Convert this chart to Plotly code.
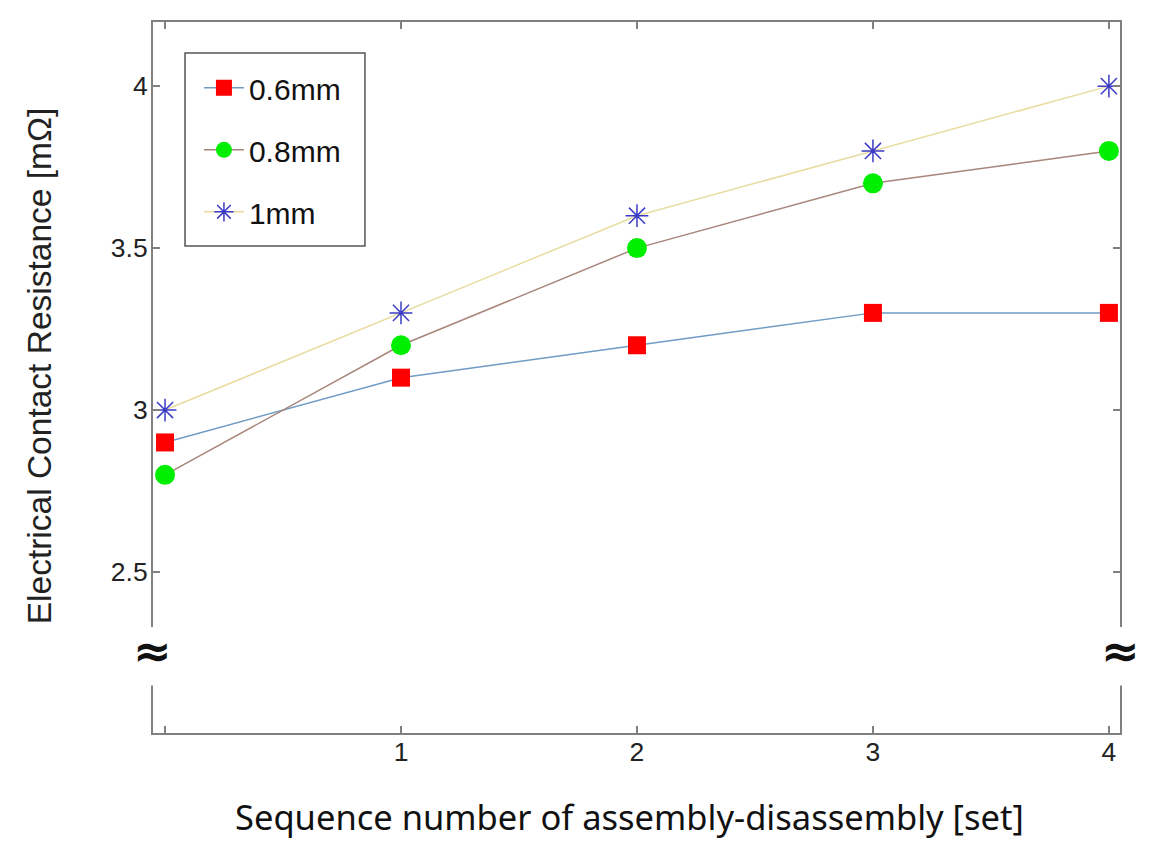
import plotly.graph_objects as go

sequence = [0, 1, 2, 3, 4]
tick_labels = ["", "1", "2", "3", "4"]
res_06 = [2.9, 3.1, 3.2, 3.3, 3.3]
res_08 = [2.8, 3.2, 3.5, 3.7, 3.8]
res_10 = [3.0, 3.3, 3.6, 3.8, 4.0]
y_ticks = [2.5, 3, 3.5, 4]
y_labels = ["2.5", "3", "3.5", "4"]

fig = go.Figure()
fig.add_trace(go.Scatter(
    x=sequence, y=res_06, name="0.6mm", mode="lines+markers", legendgroup="a",
    line=dict(color="#6f9cc4", width=1.5),
    marker=dict(symbol="square", size=18, color="#ff0000", line=dict(width=0))))
fig.add_trace(go.Scatter(
    x=sequence, y=res_08, name="0.8mm", mode="lines+markers", legendgroup="b",
    line=dict(color="#a8857a", width=1.5),
    marker=dict(symbol="circle", size=20, color="#00ee00", line=dict(width=0))))
fig.add_trace(go.Scatter(
    x=sequence, y=res_10, name="1mm", mode="lines+markers", legendgroup="c",
    line=dict(color="#e8dca0", width=1.5),
    marker=dict(symbol="asterisk-open", size=19, color="#3b3bc6", line=dict(width=1.5, color="#3b3bc6"))))

axis_common = dict(showline=True, linecolor="#808080", linewidth=2, mirror="ticks",
                   ticks="inside", ticklen=7, tickcolor="#808080", tickwidth=1.5,
                   showgrid=False, zeroline=False,
                   tickfont=dict(family="Liberation Sans, Arial", size=26.5, color="#222"))

fig.update_xaxes(range=[-0.051, 4.047], tickvals=sequence, ticktext=tick_labels,
                 ticklabelstandoff=-6, **axis_common)
fig.update_yaxes(range=[2.003, 4.198], tickvals=y_ticks, ticktext=y_labels,
                 ticklabelstandoff=-2, **axis_common)

# axis break gaps
for x0, x1 in [(-0.03, 0.03), (0.97, 1.03)]:
    fig.add_shape(type="rect", xref="paper", yref="y", x0=x0, x1=x1, y0=2.15, y1=2.33,
                  fillcolor="white", line=dict(width=0), layer="above")
for xp in [0, 1]:
    fig.add_annotation(x=xp, xref="paper", y=2.255, yref="y", text="<b>≈</b>", showarrow=False,
                       font=dict(family="DejaVu Sans", size=46, color="#111"),
                       xanchor="center", yanchor="middle", xshift=-1 if xp == 0 else 0)

# legend frame
fig.add_shape(type="rect", xref="paper", yref="paper", x0=0.0331, x1=0.2192, y0=0.685, y1=0.9564,
              fillcolor="white", line=dict(color="#555", width=1.5), layer="below")

fig.add_annotation(x=0.4928, xref="paper", y=-0.118, yref="paper",
                   text="Sequence number of assembly-disassembly [set]", showarrow=False,
                   font=dict(family="Noto Sans", size=34.5, color="#111"), yanchor="middle")
fig.add_annotation(x=-0.117, xref="paper", y=0.517, yref="paper",
                   text="Electrical Contact Resistance [mΩ]", showarrow=False, textangle=-90,
                   font=dict(family="Liberation Sans, Arial", size=33.5, color="#222"),
                   xanchor="center", yanchor="middle")

fig.update_layout(
    width=1151, height=836,
    margin=dict(l=145, r=39, t=14, b=111),
    paper_bgcolor="white", plot_bgcolor="white",
    showlegend=True,
    legend=dict(x=0.0475, y=0.944, xanchor="left", yanchor="top",
                bgcolor="rgba(0,0,0,0)", borderwidth=0,
                font=dict(family="Liberation Sans, Arial", size=30, color="#111"),
                tracegroupgap=20, itemwidth=40),
)

fig.write_html("out.html")
